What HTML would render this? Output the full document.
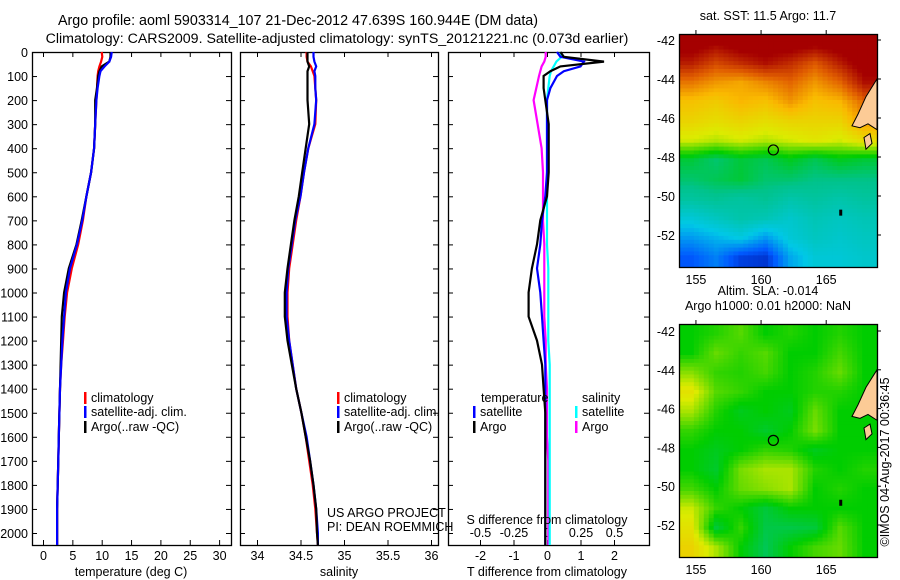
<!DOCTYPE html>
<html><head><meta charset="utf-8"><style>
body{margin:0;background:#fff;}
svg{display:block;font-family:"Liberation Sans",sans-serif;}
text{fill:#000;}
</style></head><body>
<svg id="fig" width="900" height="580" xmlns="http://www.w3.org/2000/svg">
<text x="298" y="25" font-size="14.3" text-anchor="middle">Argo profile: aoml 5903314_107 21-Dec-2012 47.639S 160.944E (DM data)</text>
<text x="337" y="43" font-size="14.2" text-anchor="middle">Climatology: CARS2009. Satellite-adjusted climatology: synTS_20121221.nc (0.073d earlier)</text>
<g id="g"></g>
</svg>
<script>
// ---------- data ----------
const depthTicks=[0,100,200,300,400,500,600,700,800,900,1000,1100,1200,1300,1400,1500,1600,1700,1800,1900,2000];
const tempTicks=[0,5,10,15,20,25,30];
const salTicks=[34,34.5,35,35.5,36];
const tdTicks=[-2,-1,0,1,2];
const sdTicks=[-0.5,-0.25,0,0.25,0.5];
const pres=[0,20,40,60,80,100,150,200,300,400,500,600,700,800,900,1000,1100,1200,1300,1400,1500,1600,1700,1800,1900,2000,2050];
const tempClim=[10.0,10.1,9.9,9.6,9.4,9.3,9.2,9.1,8.9,8.7,8.2,7.4,6.8,6.0,4.9,4.1,3.7,3.4,3.1,2.9,2.8,2.7,2.6,2.5,2.4,2.4,2.4];
const tempSat=[11.7,11.6,11.3,10.5,9.8,9.6,9.3,9.1,8.9,8.7,8.2,7.4,6.7,5.8,4.6,3.9,3.6,3.3,3.1,2.9,2.8,2.7,2.6,2.5,2.4,2.4,2.4];
const tempArgo=[11.5,11.5,11.3,10.0,9.6,9.4,9.2,8.9,8.9,8.7,8.2,7.4,6.6,5.7,4.4,3.6,3.2,3.1,3.0,2.9,2.8,2.7,2.6,2.5,2.4,2.4,2.4];
const salClim=[34.57,34.57,34.58,34.62,34.64,34.66,34.67,34.68,34.67,34.59,34.54,34.50,34.45,34.41,34.37,34.35,34.35,34.37,34.41,34.45,34.51,34.56,34.60,34.64,34.67,34.69,34.70];
const salSat=[34.65,34.65,34.66,34.68,34.66,34.67,34.67,34.68,34.66,34.59,34.54,34.50,34.44,34.40,34.36,34.34,34.34,34.37,34.41,34.45,34.51,34.57,34.61,34.65,34.68,34.70,34.70];
const salArgo=[34.58,34.58,34.58,34.60,34.58,34.58,34.58,34.58,34.60,34.56,34.52,34.48,34.43,34.39,34.35,34.32,34.32,34.35,34.40,34.45,34.51,34.56,34.61,34.65,34.68,34.69,34.70];
const tdSat=[0.3,0.4,1.1,1.0,0.5,0.3,0.1,0.0,0.0,0.0,0.0,-0.05,-0.15,-0.2,-0.3,-0.2,-0.15,-0.1,-0.05,-0.05,-0.05,-0.05,-0.05,-0.05,-0.05,-0.05,-0.05];
const tdArgo=[0.4,0.5,1.7,0.4,0.1,-0.1,-0.1,-0.05,0.05,0.05,0.05,0.0,-0.2,-0.3,-0.45,-0.55,-0.55,-0.3,-0.15,-0.1,-0.05,-0.05,-0.05,-0.05,-0.05,-0.05,-0.05];
const sdSat=[0.1,0.11,0.07,0.05,0.03,0.02,0.01,0.0,0.0,0.0,0.0,0.0,0.0,0.0,0.01,0.01,0.01,0.01,0.02,0.02,0.02,0.02,0.02,0.02,0.02,0.02,0.02];
const sdArgo=[-0.01,-0.01,-0.02,-0.04,-0.05,-0.06,-0.08,-0.1,-0.07,-0.04,-0.03,-0.03,-0.03,-0.02,-0.02,-0.02,-0.02,-0.01,-0.01,0.0,0.0,0.0,0.01,0.01,0.01,0.01,0.01];
const sstGrid=[
[14,13.8,14,14,14,13.9,14,14],
[13.6,13.3,13.5,13.7,13.5,13.2,13.6,14],
[13.0,12.8,12.7,12.9,13.1,12.8,13.1,13.7],
[12.5,12.4,12.6,12.5,12.8,12.5,12.6,13.1],
[12.3,12.2,12.3,12.2,12.3,12.3,12.3,12.8],
[12.0,11.9,12.0,11.9,12.0,12.1,12.0,12.2],
[11.1,10.9,11.1,11.0,11.2,11.0,11.2,11.1],
[10.9,11.0,11.1,10.9,10.9,10.8,10.8,10.8],
[10.6,10.7,10.6,10.7,10.5,10.6,10.5,10.6],
[10.1,10.3,10.5,10.4,10.2,10.4,10.3,10.4],
[9.6,9.8,10.0,9.6,10.1,10.3,10.2,10.3],
[9.1,9.4,8.9,8.8,9.7,10.1,10.1,10.2]];
const slaGrid=[
[0.0,0.02,0.05,0.0,0.02,0.0,0.02,0.0],
[0.0,0.06,0.03,0.05,0.0,0.0,0.04,0.0],
[0.08,0.03,0.02,0.04,0.0,0.02,0.06,0.0],
[0.15,0.05,0.03,0.0,0.0,0.02,0.02,0.0],
[0.1,0.02,-0.02,0.0,-0.02,0.06,0.0,0.0],
[0.03,0.0,0.0,-0.03,0.0,0.07,0.0,0.0],
[0.0,-0.02,0.0,0.03,0.02,-0.02,0.0,0.0],
[0.0,-0.03,0.07,0.1,0.1,0.02,0.0,0.02],
[0.04,0.0,0.06,0.08,0.1,0.0,0.02,0.0],
[0.12,0.03,0.0,-0.04,0.0,0.0,0.0,0.0],
[0.15,-0.04,0.03,-0.05,-0.05,-0.04,0.05,0.0],
[0.18,0.1,0.0,-0.06,0.0,0.04,0.06,0.0]];
const lonTicks=[155,160,165];
const latTicks=[-42,-44,-46,-48,-50,-52];
// ---------- helpers ----------
const NS="http://www.w3.org/2000/svg";
const G=document.getElementById('g');
function mk(t,a,p){const e=document.createElementNS(NS,t);for(const k in a)e.setAttribute(k,a[k]);(p||G).appendChild(e);return e;}
const Y0=52,PY=0.2405;
const yP=p=>Y0+p*PY;
const xT=v=>43+v*5.87;
const xS=v=>257+(v-34)*87;
const xTD=v=>547+v*33.5;
const xSD=v=>547+v*134;
const panels=[[32,231],[240,438],[448,649]];
const TOP=52,BOT=545;
panels.forEach((p,i)=>{
  const r=mk('rect',{x:p[0]+0.5,y:TOP+0.5,width:p[1]-p[0],height:BOT-TOP,fill:'none',stroke:'#000','stroke-width':1.3});
  
  
  depthTicks.forEach(d=>{
    const y=yP(d)+0.5;
    mk('line',{x1:p[0],x2:p[0]+5,y1:y,y2:y,stroke:'#000'});
    mk('line',{x1:p[1]-5,x2:p[1],y1:y,y2:y,stroke:'#000'});
  });
});
depthTicks.forEach(d=>{
  const t=mk('text',{x:28,y:yP(d)+5,'font-size':12.5,'text-anchor':'end'});t.textContent=d;
  
  
});
function xticks(arr,fx,y,up){arr.forEach(v=>{const x=fx(v)+0.5;
  if(up!==false){mk('line',{x1:x,x2:x,y1:BOT-5,y2:BOT,stroke:'#000'});mk('line',{x1:x,x2:x,y1:TOP,y2:TOP+5,stroke:'#000'});}
  const t=mk('text',{x:x,y:y,'font-size':12.5,'text-anchor':'middle'});t.textContent=v;
  
  });}
xticks(tempTicks,xT,560);
xticks(salTicks,xS,560);
xticks(tdTicks,xTD,560);
xticks(sdTicks,xSD,537,false);
sdTicks.forEach(v=>{const x=xSD(v)+0.5;mk('line',{x1:x,x2:x,y1:BOT-5,y2:BOT,stroke:'#000'});});
[['temperature (deg C)',131,'x-axis-title-temperature'],['salinity',339,'x-axis-title-salinity'],['T difference from climatology',547,'x-axis-title-t-diff']].forEach(a=>{
  const t=mk('text',{x:a[1],y:576,'font-size':12.5,'text-anchor':'middle'});t.textContent=a[0];
  
  });
function line(vals,fx,col,name,w){
  const pts=pres.map((p,i)=>fx(vals[i]).toFixed(1)+','+yP(p).toFixed(1)).join(' ');
  const l=mk('polyline',{points:pts,fill:'none',stroke:col,'stroke-width':w||2.2});
  
  
}
line(tempClim,xT,'#f00','temp-climatology-line');
line(tempArgo,xT,'#000','temp-argo-line');
line(tempSat,xT,'#00f','temp-satellite-line');
line(salClim,xS,'#f00','sal-climatology-line');
line(salSat,xS,'#00f','sal-satellite-line');
line(salArgo,xS,'#000','sal-argo-line');
line(sdArgo,xSD,'#f0f','sdiff-argo-line');
line(sdSat,xSD,'#0ff','sdiff-satellite-line');
line(tdSat,xTD,'#00f','tdiff-satellite-line');
line(tdArgo,xTD,'#000','tdiff-argo-line');
function leg(x,y,col,txt,name){
  mk('rect',{x:x,y:y-10,width:2.5,height:12,fill:col});
  const t=mk('text',{x:x+7,y:y,'font-size':12.5});t.textContent=txt;
  
  }
[[84,'p1'],[337,'p2']].forEach(a=>{
  leg(a[0],402,'#f00','climatology','legend-climatology-'+a[1]);
  leg(a[0],416,'#00f','satellite-adj. clim.','legend-satellite-'+a[1]);
  leg(a[0],431,'#000','Argo(..raw -QC)','legend-argo-'+a[1]);
});
(function(){const t=mk('text',{x:481,y:402,'font-size':12.5});t.textContent='temperature';


const s=mk('text',{x:582,y:402,'font-size':12.5});s.textContent='salinity';

})();
leg(473,416,'#00f','satellite','legend-t-satellite');
leg(473,431,'#000','Argo','legend-t-argo');
leg(575,416,'#0ff','satellite','legend-s-satellite');
leg(575,431,'#f0f','Argo','legend-s-argo');
[['US ARGO PROJECT',327,517,'credit-project'],['PI: DEAN ROEMMICH',327,531,'credit-pi'],['S difference from climatology',547,524,'s-diff-axis-title']].forEach(a=>{
  const t=mk('text',{x:a[1],y:a[2],'font-size':12.5,'text-anchor':a[3]=='s-diff-axis-title'?'middle':'start'});t.textContent=a[0];
  
  });
// ---------- maps ----------
const MX0=679,MX1=877,LON0=153.7,LON1=168.9;
const xL=l=>MX0+(l-LON0)*(MX1-MX0)/(LON1-LON0);
function jet(v,lo,hi){let t=Math.max(0,Math.min(1,(v-lo)/(hi-lo)));
 const st=[[0,[0,0,140]],[0.15,[0,90,255]],[0.3,[0,200,230]],[0.45,[0,195,140]],[0.55,[0,205,0]],[0.68,[220,235,0]],[0.78,[250,185,0]],[0.88,[225,95,0]],[1,[165,0,0]]];
 for(let i=1;i<st.length;i++){if(t<=st[i][0]){const a=st[i-1],b=st[i],f=(t-a[0])/(b[0]-a[0]);return 'rgb('+a[1].map((c,k)=>Math.round(c+(b[1][k]-c)*f)).join(',')+')';}}return 'rgb(165,0,0)';}
function sample(grid,r,c){
  const R=grid.length,C=grid[0].length;
  r=Math.max(0,Math.min(R-1,r));c=Math.max(0,Math.min(C-1,c));
  const r0=Math.floor(r),c0=Math.floor(c),r1=Math.min(R-1,r0+1),c1=Math.min(C-1,c0+1),fr=r-r0,fc=c-c0;
  return grid[r0][c0]*(1-fr)*(1-fc)+grid[r0][c1]*(1-fr)*fc+grid[r1][c0]*fr*(1-fc)+grid[r1][c1]*fr*fc;}
function map(top,bot,lat42,lat52,grid,lo,hi,name,title){
  const yl=l=>lat42+(-42-l)*(lat52-lat42)/10;
  const rows=grid.length,cols=grid[0].length,S=5;
  const ch=(bot-top)/rows/S,cw=(MX1-MX0)/cols/S;
  const cg=mk('g',{});
  
  
  for(let i=0;i<rows*S;i++)for(let j=0;j<cols*S;j++){
    const v=sample(grid,(i+0.5)/S-0.5,(j+0.5)/S-0.5);
    mk('rect',{x:(MX0+j*cw).toFixed(2),y:(top+i*ch).toFixed(2),width:(cw+0.5).toFixed(2),height:(ch+0.5).toFixed(2),fill:jet(v,lo,hi)},cg);
  }
  const land=mk('polygon',{points:[[877,yl(-44)],[866,yl(-44.9)],[858,yl(-45.8)],[852,yl(-46.4)],[860,yl(-46.5)],[868,yl(-46.3)],[877,yl(-46.6)]].map(p=>p.join(',')).join(' '),fill:'#fccb96',stroke:'#000','stroke-width':1});
  
  
  mk('polygon',{points:[[864,yl(-47)],[870,yl(-46.8)],[872,yl(-47.3)],[866,yl(-47.6)]].map(p=>p.join(',')).join(' '),fill:'#fccb96',stroke:'#000'});
  mk('rect',{x:xL(166),y:yl(-50.7),width:3,height:6,fill:'#000'});
  const c=mk('circle',{cx:xL(160.944),cy:yl(-47.639),r:5,fill:'none',stroke:'#000','stroke-width':1.2});
  
  
  const f=mk('rect',{x:MX0+0.5,y:top+0.5,width:MX1-MX0,height:bot-top,fill:'none',stroke:'#000','stroke-width':1.3});
  
  
  latTicks.forEach(l=>{const y=yl(l);mk('line',{x1:MX1,x2:MX1+4,y1:y,y2:y,stroke:'#000'});
    const t=mk('text',{x:675,y:y+5,'font-size':12.5,'text-anchor':'end'});t.textContent=l;
    
    });
  lonTicks.forEach(l=>{const x=xL(l);mk('line',{x1:x,x2:x,y1:top-4,y2:top,stroke:'#000'});
    const t=mk('text',{x:x,y:bot+17,'font-size':12.5,'text-anchor':'middle'});t.textContent=l;
    
    });
  title.forEach((s,i)=>{const t=mk('text',{x:768,y:top-14-(title.length-1-i)*15,'font-size':12.5,'text-anchor':'middle'});t.textContent=s;
    
    });
}
map(34,267,40,235,sstGrid,8.3,13.8,'sst-map',['sat. SST: 11.5 Argo: 11.7']);
map(324,557,331,525,slaGrid,-0.55,0.45,'sla-map',['Altim. SLA: -0.014','Argo h1000: 0.01 h2000: NaN']);
(function(){const t=mk('text',{x:0,y:0,'font-size':12.5,'text-anchor':'middle',transform:'translate(889,462) rotate(-90)'});
t.textContent='©IMOS 04-Aug-2017 00:36:45';

})();
</script>
</body></html>
